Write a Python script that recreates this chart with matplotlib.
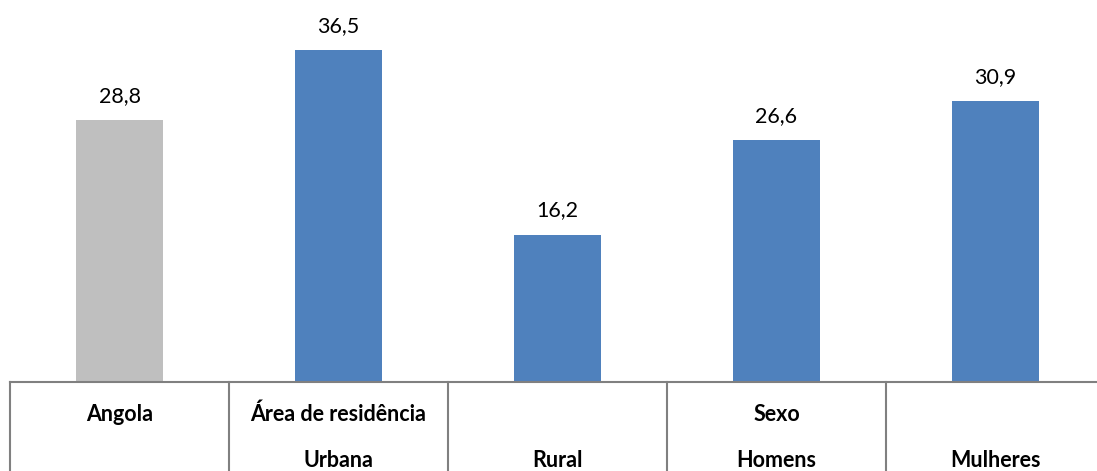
import matplotlib.pyplot as plt

categories = ['Angola', 'Urbana', 'Rural', 'Homens', 'Mulheres']
group_labels = ['Angola', 'Área de residência', '', 'Sexo', '']
sub_labels = ['', 'Urbana', 'Rural', 'Homens', 'Mulheres']
values = [28.8, 36.5, 16.2, 26.6, 30.9]
colors = ['#BFBFBF', '#4F81BD', '#4F81BD', '#4F81BD', '#4F81BD']

plt.rcParams['font.family'] = ['Lato', 'DejaVu Sans']

fig = plt.figure(figsize=(10.97, 4.71), dpi=100)
ax = fig.add_axes([10 / 1097, 89 / 471, 1 - 10 / 1097, 382 / 471])

x = list(range(len(values)))
ax.bar(x, values, width=0.4, color=colors)
for xi, v in zip(x, values):
    ax.annotate(f'{v:.1f}'.replace('.', ','), (xi, v), xytext=(0, 13),
                textcoords='offset points', ha='center', va='baseline', fontsize=15.5)

ax.set_xlim(-0.5, -0.5 + 1087 / 219)
ax.set_ylim(0, 382 / 9.1)
ax.set_yticks([])
ax.set_xticks([])
for s in ['top', 'right', 'left']:
    ax.spines[s].set_visible(False)
ax.spines['bottom'].set_color('#808080')
ax.spines['bottom'].set_linewidth(1.5)

# table under the axis
trans = ax.get_xaxis_transform()
for b in [-0.5, 0.5, 1.5, 2.5, 3.5]:
    ax.plot([b, b], [0, -89 / 382], color='#808080', lw=1.5,
            transform=trans, clip_on=False)
for xi, g, s in zip(x, group_labels, sub_labels):
    ax.text(xi, -39 / 382, g, transform=trans, ha='center', va='baseline',
            fontsize=15.5, fontweight='bold')
    ax.text(xi, -85 / 382, s, transform=trans, ha='center', va='baseline',
            fontsize=15.5, fontweight='bold')

fig.savefig('out.png', dpi=100)
